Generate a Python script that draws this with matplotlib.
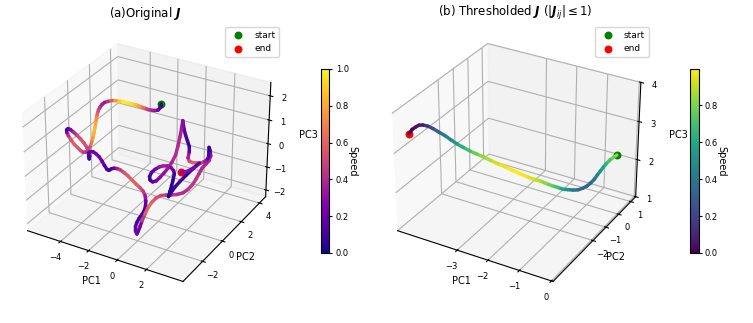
import numpy as np
import matplotlib
matplotlib.use('Agg')
import matplotlib.pyplot as plt
from mpl_toolkits.mplot3d.art3d import Line3DCollection

# trajectory values are in hundredths
pc1_a = np.array([-142,-138,-142,-156,-177,-191,-220,-248,-269,-298,-326,-348,-376,-405,-427,-456,-485,-503,-521,-528,
    -524,-525,-516,-515,-506,-505,-497,-499,-496,-503,-506,-516,-518,-531,-536,-549,-553,-556,-557,-546,
    -529,-507,-483,-458,-434,-405,-391,-387,-391,-395,-393,-380,-363,-333,-312,-292,-275,-257,-243,
    -229,-208,-194,-173,-145,-118,-97,-70,-42,-28,-14,-9,-11,-27,-43,-64,-80,-97,-97,-87,
    -77,-72,-58,-44,-27,-9,19,46,74,102,143,177,204,228,251,264,276,303,316,320,
    316,301,301,292,273,247,212,181,157,140,148,148,128,114,103,87,79,69,49,33,
    9,-26,-54,-83,-118,-143,-161,-172,-158,-133,-104,-76,-40,-12,6,12,10,0,-11,-21,
    4,31,66,107,155,204,169,135,114,86]) / 100
pc2_a = [2.2,2.2,2.1,2.1,2.1,2.0,2.0,2.0,1.9,1.9,1.9,1.8,1.8,1.8,1.7,1.7,1.7,1.6,1.6,
    1.5,1.3,1.2,1.0,0.9,0.7,0.6,0.4,0.3,0.1,0.0,-0.2,-0.3,-0.5,-0.6,-0.8,-0.9,-1.1,-1.2,
    -1.2,-1.2,-1.2,-1.2,-1.2,-1.2,-1.2,-1.3,-1.3,-1.3,-1.3,-1.3,-1.3,-1.3,-1.3,-1.4,-1.4,-1.4,-1.4,-1.4,-1.4,-1.4,
    -1.4,-1.3,-1.3,-1.3,-1.3,-1.2,-1.2,-1.2,-1.1,-1.1,-1.1,-1.1,-1.0,-1.0,-1.0,-1.0,-0.9,-0.9,-0.9,-0.9,-0.8,-0.8,
    -0.7,-0.6,-0.5,-0.5,-0.4,-0.3,-0.2,-0.2,-0.1,0.0,0.1,0.1,0.2,0.3,0.3,0.4,0.5,0.5,0.6,0.6,0.7,0.7,0.7,
    0.8,0.8,0.8,0.9,0.9,0.9,1.0,1.0,1.0,1.1,1.1,1.1,1.2,1.2,1.2,1.3,1.3,1.3,1.4,1.4,1.4,1.5,
    1.5,1.5,1.5,1.5,1.4,1.4,1.4,1.4,1.3,1.3,1.3,1.3,1.2,1.2,1.2,1.2,1.1,1.1,1.1,1.1,1.0,1.0]
pc3_a = np.array([160,152,147,136,131,133,132,134,140,142,141,146,145,144,146,142,134,130,119,110,
    106,92,84,66,54,37,26,10,-3,-15,-16,-14,1,15,34,52,78,95,106,113,
    112,105,96,85,72,62,46,30,17,29,41,49,52,52,44,29,14,0,-1,7,
    14,11,10,3,-6,-23,-35,-45,-61,-77,-99,-121,-147,-167,-188,-209,-233,-253,-264,-249,
    -233,-206,-178,-148,-128,-106,-94,-91,-90,-80,-71,-56,-35,-8,13,33,56,68,84,104,
    112,93,65,47,36,25,21,22,30,56,78,94,116,139,167,132,97,53,12,-21,
    -57,-83,-107,-133,-141,-136,-127,-107,-89,-74,-64,-54,-56,-66,-79,-102,-129,-155,-179,-153,
    -124,-94,-61,-24,11,-13,-31,-37,-44]) / 100
speed_a = [.03,.05,.12,.2,.3,.35,.4,.55,.7,.82,.92,.97,.98,.95,.85,.65,.48,.35,.3,.38,.45,.55,.68,.78,.85,.85,.8,.72,.6,.45,
    .4,.45,.5,.58,.6,.58,.5,.35,.15,.1,.2,.35,.45,.55,.55,.52,.45,.3,.15,.08,.12,.18,.2,.22,.25,.22,.18,.12,.07,.08,
    .15,.3,.42,.52,.58,.6,.6,.55,.5,.4,.25,.15,.12,.1,.08,.1,.15,.2,.25,.22,.15,.35,.55,.62,.6,.55,.5,.47,.45,.42,
    .38,.42,.45,.45,.42,.4,.38,.4,.38,.25,.1,.04,.12,.25,.45,.55,.6,.58,.45,.25,.1,.08,.12,.18,.25,.35,.38,.4,.42,.4,
    .35,.32,.3,.25,.2,.12,.08,.12,.2,.3,.36,.35,.3,.2,.1,.07,.05,.03,.04,.06,.08,.1,.08,.04,.15,.22,.28,.3,.3]

pc1_b = [0.04,-0.02,-0.09,-0.16,-0.21,-0.26,-0.31,-0.36,-0.43,-0.51,-0.59,-0.71,-0.82,-0.94,-1.05,-1.17,-1.31,-1.46,-1.60,-1.78,-1.96,-2.13,-2.31,-2.48,-2.66,-2.84,-3.01,-3.19,-3.36,-3.53,-3.68,-3.82,-3.95,-4.09,-4.23,-4.34,-4.44,-4.52,-4.58,-4.64,-4.68]
pc2_b = [-0.30,-0.40,-0.50,-0.60,-0.70,-0.80,-0.90,-1.00,-1.10,-1.20,-1.30,-1.40,-1.50,-1.61,-1.72,-1.82,-1.93,-2.04,-2.15,-2.26,-2.37,-2.48,-2.58,-2.69,-2.80,-2.91,-3.01,-3.12,-3.22,-3.33,-3.44,-3.54,-3.65,-3.76,-3.86,-3.97,-4.08,-4.18,-4.29,-4.39,-4.50]
pc3_b = [2.66,2.62,2.57,2.49,2.42,2.34,2.26,2.17,2.09,2.02,1.98,1.94,1.94,1.96,1.98,2.03,2.08,2.14,2.21,2.25,2.32,2.39,2.46,2.54,2.61,2.69,2.77,2.84,2.91,3.00,3.09,3.19,3.30,3.39,3.48,3.55,3.59,3.60,3.57,3.53,3.45]
speed_b = [.82,.8,.75,.68,.6,.55,.48,.42,.36,.33,.3,.33,.38,.45,.55,.66,.74,.8,.86,.92,.97,.99,.99,.98,.95,.9,.85,.8,.72,.65,.58,.5,.42,.35,.27,.18,.1,.07,.05,.03,0]

fig = plt.figure(figsize=(7.53, 3.23), dpi=100)
ax1 = fig.add_axes([0.0086, 0.0745, 0.368, 0.857], projection='3d')
ax2 = fig.add_axes([0.5, 0.0745, 0.368, 0.857], projection='3d')
ax1.set_xlim(-6.4, 4.45)
ax1.set_ylim(-3.9, 4.7)
ax1.set_zlim(-2.3, 2.55)
ax1.set_xticks([-4, -2, 0, 2])
ax1.set_yticks([-2, 0, 2, 4])
ax1.set_zticks([-2, -1, 0, 1, 2])
ax2.set_xlim(-5.0, 0.05)
ax2.set_ylim(-4.9, 1.4)
ax2.set_zlim(1, 4)
ax2.set_xticks([-3, -2, -1, 0])
ax2.set_yticks([-2, -1, 0, 1])
ax2.set_zticks([1, 2, 3, 4])

def draw(ax, x, y, z, speed, cmap, vmax, title, legend_x, cbar_x, ticks):
    pts = np.column_stack([x, y, z])
    s = np.array(speed)
    segs = np.stack([pts[:-1], pts[1:]], axis=1)
    lc = Line3DCollection(segs, cmap=cmap, linewidth=2.5, norm=plt.Normalize(0, vmax), capstyle='round')
    lc.set_array((s[:-1] + s[1:]) / 2)
    ax.add_collection3d(lc)
    ax.scatter(*pts[0], color='green', s=22, depthshade=False, label='start')
    ax.scatter(*pts[-1], color='red', s=22, depthshade=False, label='end')
    ax.set_title(title, fontsize=8.5, pad=-1)
    ax.set_xlabel('PC1', fontsize=7, labelpad=-8)
    ax.set_ylabel('PC2', fontsize=7, labelpad=-8)
    ax.set_zlabel('PC3', fontsize=7, labelpad=-3)
    ax.tick_params(labelsize=6, pad=-2)
    ax.legend(loc='upper right', bbox_to_anchor=(legend_x/753, 1-27/323), bbox_transform=fig.transFigure,
              fontsize=6.5, borderaxespad=0)
    cax = fig.add_axes([cbar_x/753, 1-253/323, 8.7/753, 184/323])
    cb = fig.colorbar(lc, cax=cax)
    cb.set_ticks(ticks)
    cb.ax.tick_params(labelsize=6, length=2.5, pad=2)
    cb.set_label('Speed', fontsize=7, rotation=270, labelpad=6)

draw(ax1, pc1_a, pc2_a, pc3_a, speed_a, 'plasma', 1.0, r'(a)Original $\mathbfit{J}$', 279, 320.7,
     [0, .2, .4, .6, .8, 1.0])
draw(ax2, pc1_b, pc2_b, pc3_b, speed_b, 'viridis', 0.995,
     r'(b) Thresholded $\mathbfit{J}$ ($|\mathbfit{J}_{ij}|\leq 1$)', 648.5, 690, [0, .2, .4, .6, .8])

fig.savefig('out.png', dpi=100)
